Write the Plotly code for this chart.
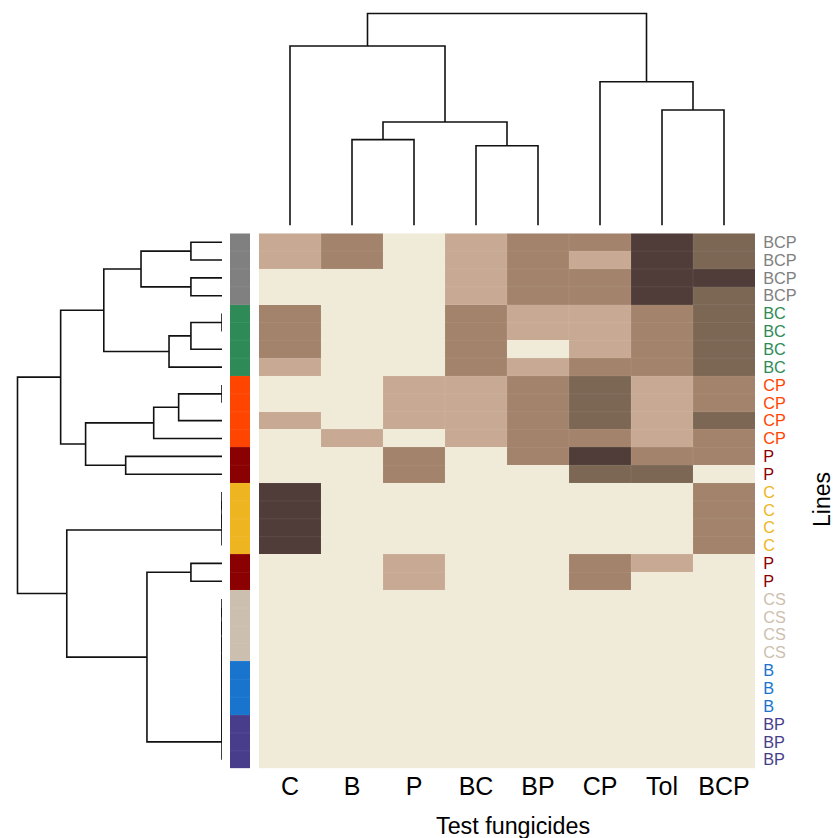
import plotly.graph_objects as go

W, H = 833, 838

fungicides = ['C', 'B', 'P', 'BC', 'BP', 'CP', 'Tol', 'BCP']
lines = ['BCP'] * 4 + ['BC'] * 4 + ['CP'] * 4 + ['P'] * 2 + ['C'] * 4 + ['P'] * 2 + ['CS'] * 4 + ['B'] * 3 + ['BP'] * 3

# score class per line (rows) and fungicide (columns)
scores = [
    [1, 2, 0, 1, 2, 2, 4, 3],
    [1, 2, 0, 1, 2, 1, 4, 3],
    [0, 0, 0, 1, 2, 2, 4, 4],
    [0, 0, 0, 1, 2, 2, 4, 3],
    [2, 0, 0, 2, 1, 1, 2, 3],
    [2, 0, 0, 2, 1, 1, 2, 3],
    [2, 0, 0, 2, 0, 1, 2, 3],
    [1, 0, 0, 2, 1, 2, 2, 3],
    [0, 0, 1, 1, 2, 3, 1, 2],
    [0, 0, 1, 1, 2, 3, 1, 2],
    [1, 0, 1, 1, 2, 3, 1, 3],
    [0, 1, 0, 1, 2, 2, 1, 2],
    [0, 0, 2, 0, 2, 4, 2, 2],
    [0, 0, 2, 0, 0, 3, 3, 0],
    [4, 0, 0, 0, 0, 0, 0, 2],
    [4, 0, 0, 0, 0, 0, 0, 2],
    [4, 0, 0, 0, 0, 0, 0, 2],
    [4, 0, 0, 0, 0, 0, 0, 2],
    [0, 0, 1, 0, 0, 2, 1, 0],
    [0, 0, 1, 0, 0, 2, 0, 0],
    [0, 0, 0, 0, 0, 0, 0, 0],
    [0, 0, 0, 0, 0, 0, 0, 0],
    [0, 0, 0, 0, 0, 0, 0, 0],
    [0, 0, 0, 0, 0, 0, 0, 0],
    [0, 0, 0, 0, 0, 0, 0, 0],
    [0, 0, 0, 0, 0, 0, 0, 0],
    [0, 0, 0, 0, 0, 0, 0, 0],
    [0, 0, 0, 0, 0, 0, 0, 0],
    [0, 0, 0, 0, 0, 0, 0, 0],
    [0, 0, 0, 0, 0, 0, 0, 0],
]
score_colors = ['#F0EAD8', '#C8AA94', '#A3836B', '#7C6755', '#503D3A']
line_colors = {'BCP': '#808080', 'BC': '#2E8B57', 'CP': '#FF4500', 'P': '#8B0000',
               'C': '#EFB521', 'CS': '#CDBFAF', 'B': '#1874CD', 'BP': '#483D8B'}


def chain(leaves):
    node = leaves[0]
    for leaf in leaves[1:]:
        node = (0, node, leaf)
    return node


# dendrograms: (height, left, right), ints are leaves
bcp_tree = (0.396, (0.152, 0, 1), (0.152, 2, 3))
bc_tree = (0.259, (0.152, (0, 4, 5), 6), 7)
cp_tree = (0.334, (0.212, (0, 8, 9), 10), 11)
p_tree = (0.471, 12, 13)
upper_tree = (0.789, (0.578, bcp_tree, bc_tree), (0.667, cp_tree, p_tree))
lower_tree = (0.759, chain([14, 15, 16, 17]),
              (0.367, (0.152, 18, 19), chain(list(range(20, 30)))))
row_tree = (1, upper_tree, lower_tree)
col_tree = (1, (0.847, 0, (0.488, (0.405, 1, 2), (0.376, 3, 4))),
            (0.678, 5, (0.545, 6, 7)))


def walk(node, hs, ps):
    # returns (height, position), appends the U of each merge
    if isinstance(node, int):
        return 0, node
    hl, pl = walk(node[1], hs, ps)
    hr, pr = walk(node[2], hs, ps)
    hs += [hl, node[0], node[0], hr, None]
    ps += [pl, pl, pr, pr, None]
    return node[0], (pl + pr) / 2


def stepped(colors):
    n = len(colors)
    out = []
    for i, c in enumerate(colors):
        out += [[i / n, c], [(i + 1) / n, c]]
    return out


def px_x(a, b):
    return [a / W, b / W]


def px_y(top, bottom):
    return [1 - bottom / H, 1 - top / H]


n_rows, n_cols = len(lines), len(fungicides)
row_pos = list(range(n_rows))
col_pos = list(range(n_cols))

fig = go.Figure()

fig.add_trace(go.Heatmap(z=scores, x=col_pos, y=row_pos, zmin=-0.5, zmax=4.5,
                         colorscale=stepped(score_colors), showscale=False, hoverongaps=False))

# faint cell borders
gx, gy = [], []
for r in range(1, n_rows):
    gx += [-0.5, n_cols - 0.5, None]
    gy += [r - 0.5, r - 0.5, None]
for c in range(1, n_cols):
    gx += [c - 0.5, c - 0.5, None]
    gy += [-0.5, n_rows - 0.5, None]
fig.add_trace(go.Scatter(x=gx, y=gy, mode='lines', hoverinfo='skip',
                         line=dict(color='rgba(255,255,255,0.07)', width=1)))

# side colour bar
groups = list(line_colors)
side_z = [[groups.index(l)] for l in lines]
fig.add_trace(go.Heatmap(z=side_z, x=[0], y=row_pos, xaxis='x2', yaxis='y', zmin=-0.5, zmax=len(groups) - 0.5,
                         colorscale=stepped([line_colors[g] for g in groups]), showscale=False))
sx, sy = [], []
for r in range(1, n_rows):
    sx += [-0.5, 0.5, None]
    sy += [r - 0.5, r - 0.5, None]
fig.add_trace(go.Scatter(x=sx, y=sy, xaxis='x2', yaxis='y', mode='lines', hoverinfo='skip',
                         line=dict(color='rgba(255,255,255,0.07)', width=1)))

hs, ps = [], []
walk(row_tree, hs, ps)
fig.add_trace(go.Scatter(x=hs, y=ps, xaxis='x3', yaxis='y', mode='lines', hoverinfo='skip',
                         line=dict(color='#111111', width=1.6)))

hs, ps = [], []
walk(col_tree, hs, ps)
fig.add_trace(go.Scatter(x=ps, y=hs, xaxis='x', yaxis='y2', mode='lines', hoverinfo='skip',
                         line=dict(color='#111111', width=1.6)))

font = 'Liberation Sans'
fig.update_layout(
    width=W, height=H, autosize=False, margin=dict(l=0, r=0, t=0, b=0),
    paper_bgcolor='white', plot_bgcolor='white', showlegend=False,
    font=dict(family=font, color='black'),
    xaxis=dict(domain=px_x(259, 755), range=[-0.5, n_cols - 0.5], anchor='y', side='bottom',
               tickmode='array', tickvals=col_pos, ticktext=fungicides, tickfont=dict(size=25),
               ticks='', ticklabelstandoff=0, showgrid=False, zeroline=False, showline=False),
    yaxis=dict(domain=px_y(233.3, 768.6), range=[n_rows - 0.5, -0.5], anchor='x', side='right',
               tickmode='array', tickvals=row_pos,
               ticktext=[f'<span style="color:{line_colors[l]}">{l}</span>' for l in lines],
               tickfont=dict(size=16.3), ticks='outside', ticklen=4, tickcolor='rgba(0,0,0,0)',
               showgrid=False, zeroline=False, showline=False),
    xaxis2=dict(domain=px_x(230, 250), range=[-0.5, 0.5], anchor='y', visible=False),
    xaxis3=dict(domain=px_x(0, 222), range=[1 + 17.5 / 204.5, 0], anchor='y', visible=False),
    yaxis2=dict(domain=px_y(0, 225.5), range=[0, 1 + 13.5 / 212], anchor='x', visible=False),
    annotations=[
        dict(text='Test fungicides', x=513 / W, y=1 - 825.5 / H, xref='paper', yref='paper',
             showarrow=False, font=dict(size=23.3), xanchor='center', yanchor='middle'),
        dict(text='Lines', x=822 / W, y=1 - 500 / H, xref='paper', yref='paper', textangle=-90,
             showarrow=False, font=dict(size=23), xanchor='center', yanchor='middle'),
    ],
)

fig.write_html("out.html", config=dict(displayModeBar=False), post_script="document.body.style.margin='0';")
